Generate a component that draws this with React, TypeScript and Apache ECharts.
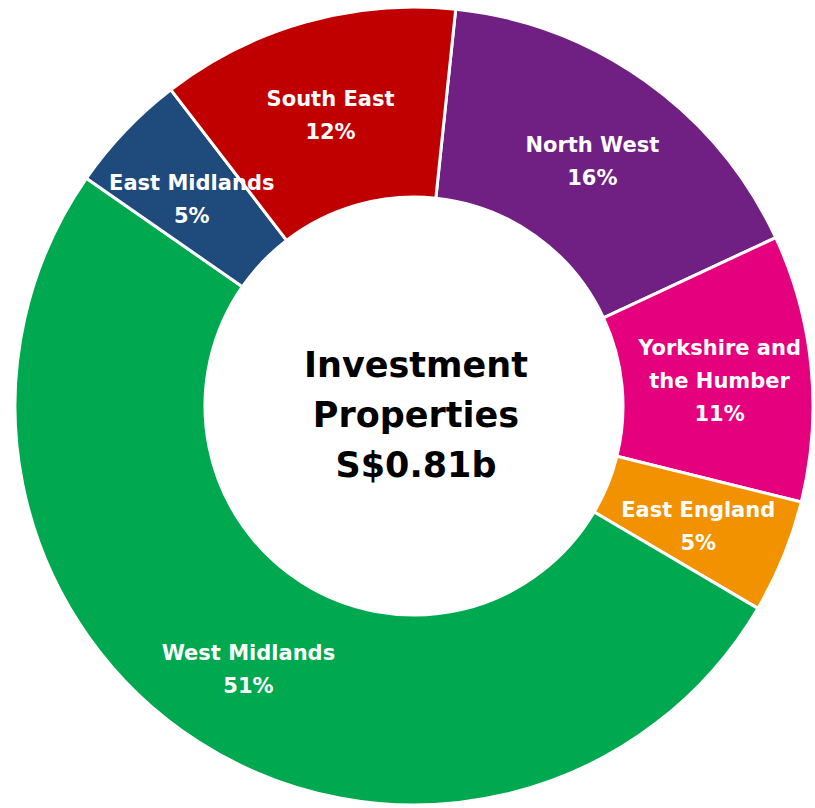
import React, { useEffect, useRef } from "react";
import * as echarts from "echarts";

const regions = ["North West", "Yorkshire and\nthe Humber", "East England", "West Midlands", "East Midlands", "South East"];
const shares = [16.4, 10.8, 4.6, 51.2, 4.9, 12.1];
const colors = ["#702082", "#E5007D", "#F39200", "#00A84F", "#1F4A7C", "#C00000"];
const centerLines = ["Investment", "Properties", "S$0.81b"];

export default function App() {
  const ref = useRef<HTMLDivElement>(null);
  useEffect(() => {
    document.body.style.margin = "0";
    const chart = echarts.init(ref.current!, null, { renderer: "svg" });
    chart.setOption({
      animation: false,
      backgroundColor: "#ffffff",
      graphic: [
        {
          type: "text",
          left: 416 - 150,
          top: 417 - 77,
          style: {
            text: centerLines.join("\n"),
            width: 300,
            fill: "#000",
            font: "bold 35px 'DejaVu Sans'",
            lineHeight: 50,
            textAlign: "center",
            x: 150,
          },
          z: 10,
        },
      ],
      series: [
        {
          type: "pie",
          center: [414, 406],
          radius: [209, 399],
          startAngle: 84,
          clockwise: true,
          avoidLabelOverlap: false,
          itemStyle: { borderColor: "#ffffff", borderWidth: 3 },
          label: {
            show: true,
            position: "inside",
            color: "#ffffff",
            fontFamily: "'DejaVu Sans'",
            fontWeight: "bold",
            fontSize: 21,
            lineHeight: 33,
            formatter: (p: any) => `${p.name}\n${Math.round(p.percent)}%`,
          },
          labelLayout: { dy: 5 },
          labelLine: { show: false },
          emphasis: { disabled: true },
          data: regions.map((r, i) => ({ name: r, value: shares[i], itemStyle: { color: colors[i] } })),
        },
      ],
    });
    return () => chart.dispose();
  }, []);
  return <div ref={ref} style={{ position: "absolute", left: 0, top: 0, width: 815, height: 808 }} />;
}
